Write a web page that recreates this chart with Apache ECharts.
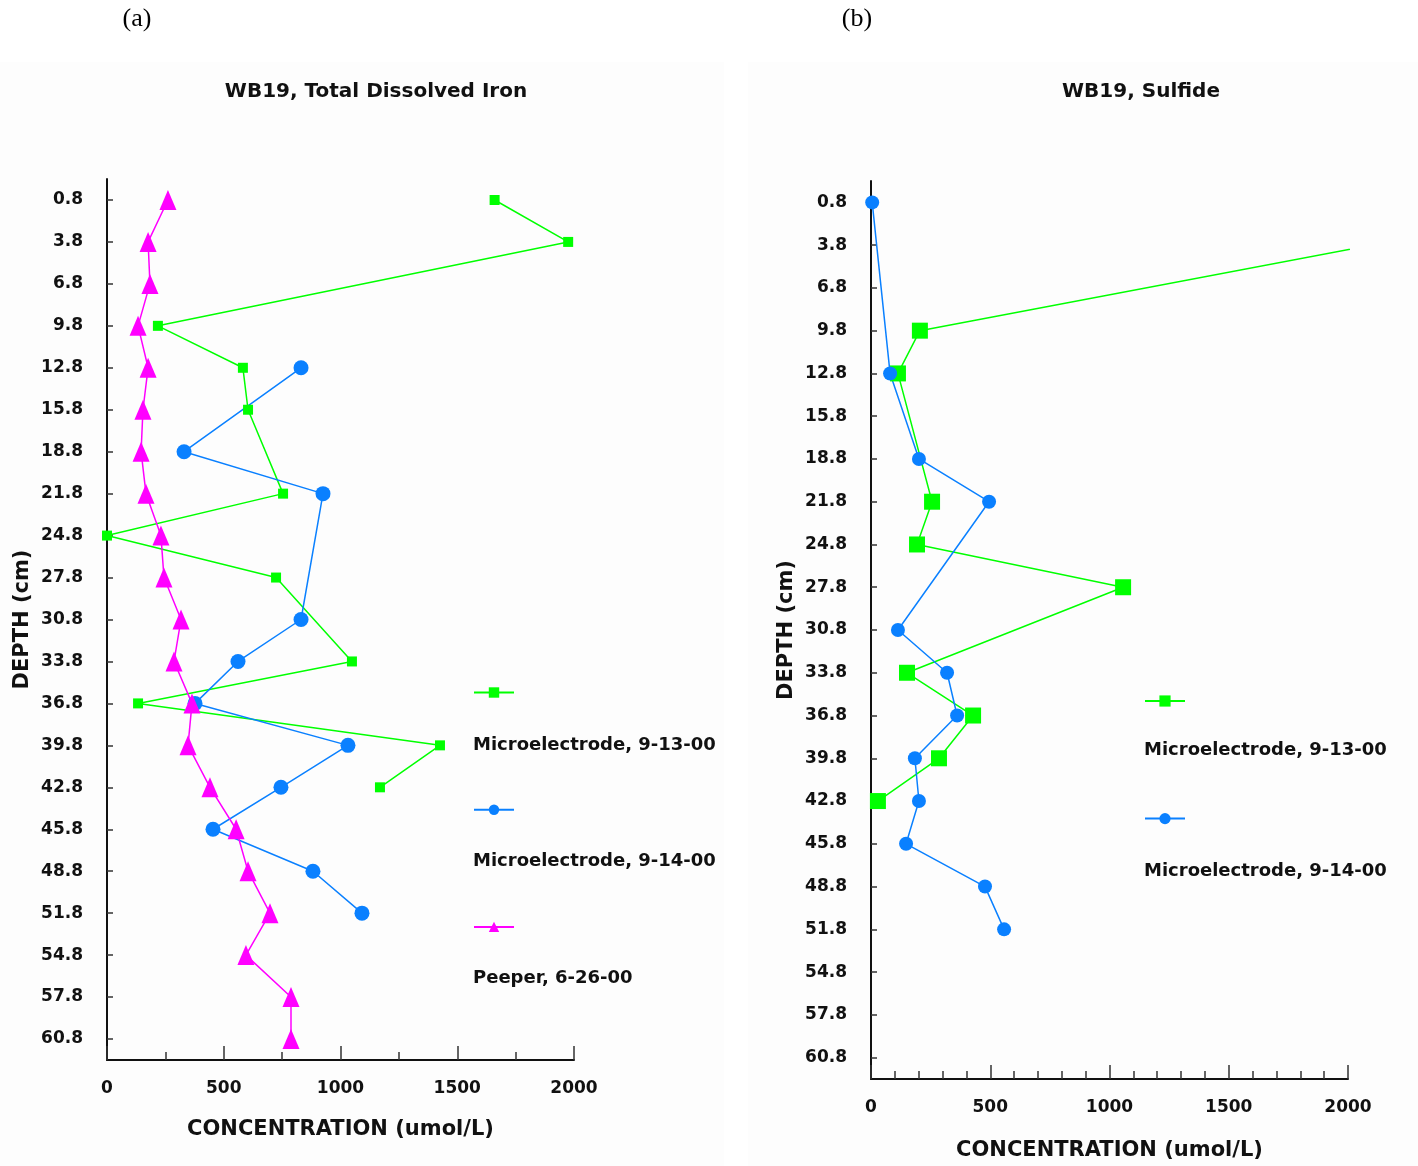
<!DOCTYPE html>
<html>
<head>
<meta charset="utf-8">
<script src="https://cdn.jsdelivr.net/npm/echarts@6/dist/echarts.min.js"></script>
<style>
html,body{margin:0;padding:0;background:#fff;}
#c{width:1418px;height:1166px;}
</style>
</head>
<body>
<div id="c"></div>
<script>
// Depth categories (cm)
const depths = ['0.8','3.8','6.8','9.8','12.8','15.8','18.8','21.8','24.8','27.8','30.8','33.8','36.8','39.8','42.8','45.8','48.8','51.8','54.8','57.8','60.8'];

// (a) Total dissolved iron (umol/L)
const ironME913 = [1660, 1975, null, 218, 582, 604, null, 754, 0, 724, null, 1049, 133, 1426, 1169, null, null, null, null, null, null];
const ironME914 = [null, null, null, null, 831, null, 330, 925, null, null, 831, 561, 377, 1032, 745, 454, 882, 1092, null, null, null];
const ironPeeper = [261, 176, 184, 133, 176, 154, 146, 167, 231, 244, 317, 287, 364, 347, 441, 553, 604, 698, 595, 788, 788];

// (b) Sulfide (umol/L)
const sulfME913 = [null, 2100, null, 205, 113, null, null, 256, 193, 1057, null, 151, 428, 285, 29, null, null, null, null, null, null];
const sulfME914 = [5, null, null, null, 80, null, 201, 495, null, null, 113, 319, 361, 184, 201, 147, 478, 558, null, null, null];

const N1 = 'Microelectrode, 9-13-00';
const N2 = 'Microelectrode, 9-14-00';
const N3 = 'Peeper, 6-26-00';

const GREEN = '#00ff00', BLUE = '#0a80ff', MAG = '#ff00ff';
const FONT = 'DejaVu Sans';

function pairs(vals) {
  return depths.map((d, i) => [vals[i], d]).filter(p => p[0] !== null);
}

function xAxisCfg(idx, minorSplit, gap) {
  return {
    type: 'value', gridIndex: idx, min: 0, max: 2000, interval: 500,
    name: 'CONCENTRATION (umol/L)', nameLocation: 'middle', nameGap: gap,
    nameTextStyle: {fontFamily: FONT, fontWeight: 'bold', fontSize: 21, color: '#111'},
    axisLine: {show: true, lineStyle: {color: '#111', width: 2}},
    axisTick: {show: true, inside: true, length: 14, lineStyle: {color: '#333', width: 1.5}},
    minorTick: {show: true, splitNumber: minorSplit, length: 8, lineStyle: {color: '#333', width: 1.5}},
    axisLabel: {fontFamily: FONT, fontWeight: 'bold', fontSize: 17, color: '#111', margin: 20,
                formatter: v => String(v)},
    splitLine: {show: false}
  };
}
function yAxisCfg(idx) {
  return {
    type: 'category', gridIndex: idx, data: depths, inverse: true,
    name: 'DEPTH (cm)', nameLocation: 'middle', nameGap: 74, nameRotate: 90,
    nameTextStyle: {fontFamily: FONT, fontWeight: 'bold', fontSize: 21, color: '#111'},
    axisLine: {show: true, lineStyle: {color: '#111', width: 2}},
    axisTick: {show: true, inside: true, alignWithLabel: true, length: 6, lineStyle: {color: '#333', width: 1.5}},
    axisLabel: {fontFamily: FONT, fontWeight: 'bold', fontSize: 17, color: '#111', margin: 24, interval: 0},
    splitLine: {show: false}
  };
}
function lineSeries(name, vals, xi, color, symbol, size) {
  return {
    type: 'line', name: name, xAxisIndex: xi, yAxisIndex: xi,
    data: pairs(vals), clip: true,
    symbol: symbol, symbolSize: size, showAllSymbol: true,
    lineStyle: {color: color, width: 1.5},
    itemStyle: {color: color},
    emphasis: {disabled: true},
    animation: false
  };
}

const chart = echarts.init(document.getElementById('c'), null, {renderer: 'canvas'});
chart.setOption({
  backgroundColor: '#ffffff',
  animation: false,
  graphic: [
    {type: 'rect', z: -10, shape: {x: 0, y: 62, width: 724, height: 1104}, style: {fill: '#fdfdfd'}},
    {type: 'rect', z: -10, shape: {x: 748, y: 62, width: 670, height: 1104}, style: {fill: '#fdfdfd'}}
  ],
  title: [
    {text: '(a)', left: 137, top: 6, textAlign: 'center', padding: 0,
     textStyle: {fontFamily: 'Liberation Serif', fontWeight: 'normal', fontSize: 26, color: '#000'}},
    {text: '(b)', left: 857, top: 6, textAlign: 'center', padding: 0,
     textStyle: {fontFamily: 'Liberation Serif', fontWeight: 'normal', fontSize: 26, color: '#000'}},
    {text: 'WB19, Total Dissolved Iron', left: 376, top: 82, textAlign: 'center', padding: 0,
     textStyle: {fontFamily: FONT, fontWeight: 'bold', fontSize: 20, color: '#111'}},
    {text: 'WB19, Sulfide', left: 1141, top: 82, textAlign: 'center', padding: 0,
     textStyle: {fontFamily: FONT, fontWeight: 'bold', fontSize: 20, color: '#111'}}
  ],
  legend: [
    {data: [N1, N2, N3], orient: 'vertical', left: 473, top: 686, itemWidth: 40, itemHeight: 13,
     itemGap: 105.5, selectedMode: false, formatter: () => '', padding: 0},
    {data: [N1, N2, N3], orient: 'vertical', left: 468, top: 734, icon: 'none', itemWidth: 0, itemHeight: 0,
     itemGap: 94.5, selectedMode: false, padding: 0,
     textStyle: {fontFamily: FONT, fontWeight: 'bold', fontSize: 18, lineHeight: 22, color: '#111'}},
    {data: [N1, N2], orient: 'vertical', left: 1144, top: 694, itemWidth: 40, itemHeight: 14,
     itemGap: 105, selectedMode: false, formatter: () => '', padding: 0},
    {data: [N1, N2], orient: 'vertical', left: 1139, top: 739, icon: 'none', itemWidth: 0, itemHeight: 0,
     itemGap: 99, selectedMode: false, padding: 0,
     textStyle: {fontFamily: FONT, fontWeight: 'bold', fontSize: 18, lineHeight: 22, color: '#111'}}
  ],
  grid: [
    {left: 107, top: 179, width: 467, height: 881, containLabel: false},
    {left: 871, top: 181, width: 477, height: 900, containLabel: false}
  ],
  xAxis: [xAxisCfg(0, 2, 59), xAxisCfg(1, 5, 61)],
  yAxis: [yAxisCfg(0), yAxisCfg(1)],
  series: [
    lineSeries(N1, ironME913, 0, GREEN, 'rect', 10),
    lineSeries(N2, ironME914, 0, BLUE, 'circle', 15),
    lineSeries(N3, ironPeeper, 0, MAG, 'triangle', [17, 20]),
    lineSeries(N1, sulfME913, 1, GREEN, 'rect', 16),
    lineSeries(N2, sulfME914, 1, BLUE, 'circle', 14)
  ]
});
</script>
</body>
</html>
